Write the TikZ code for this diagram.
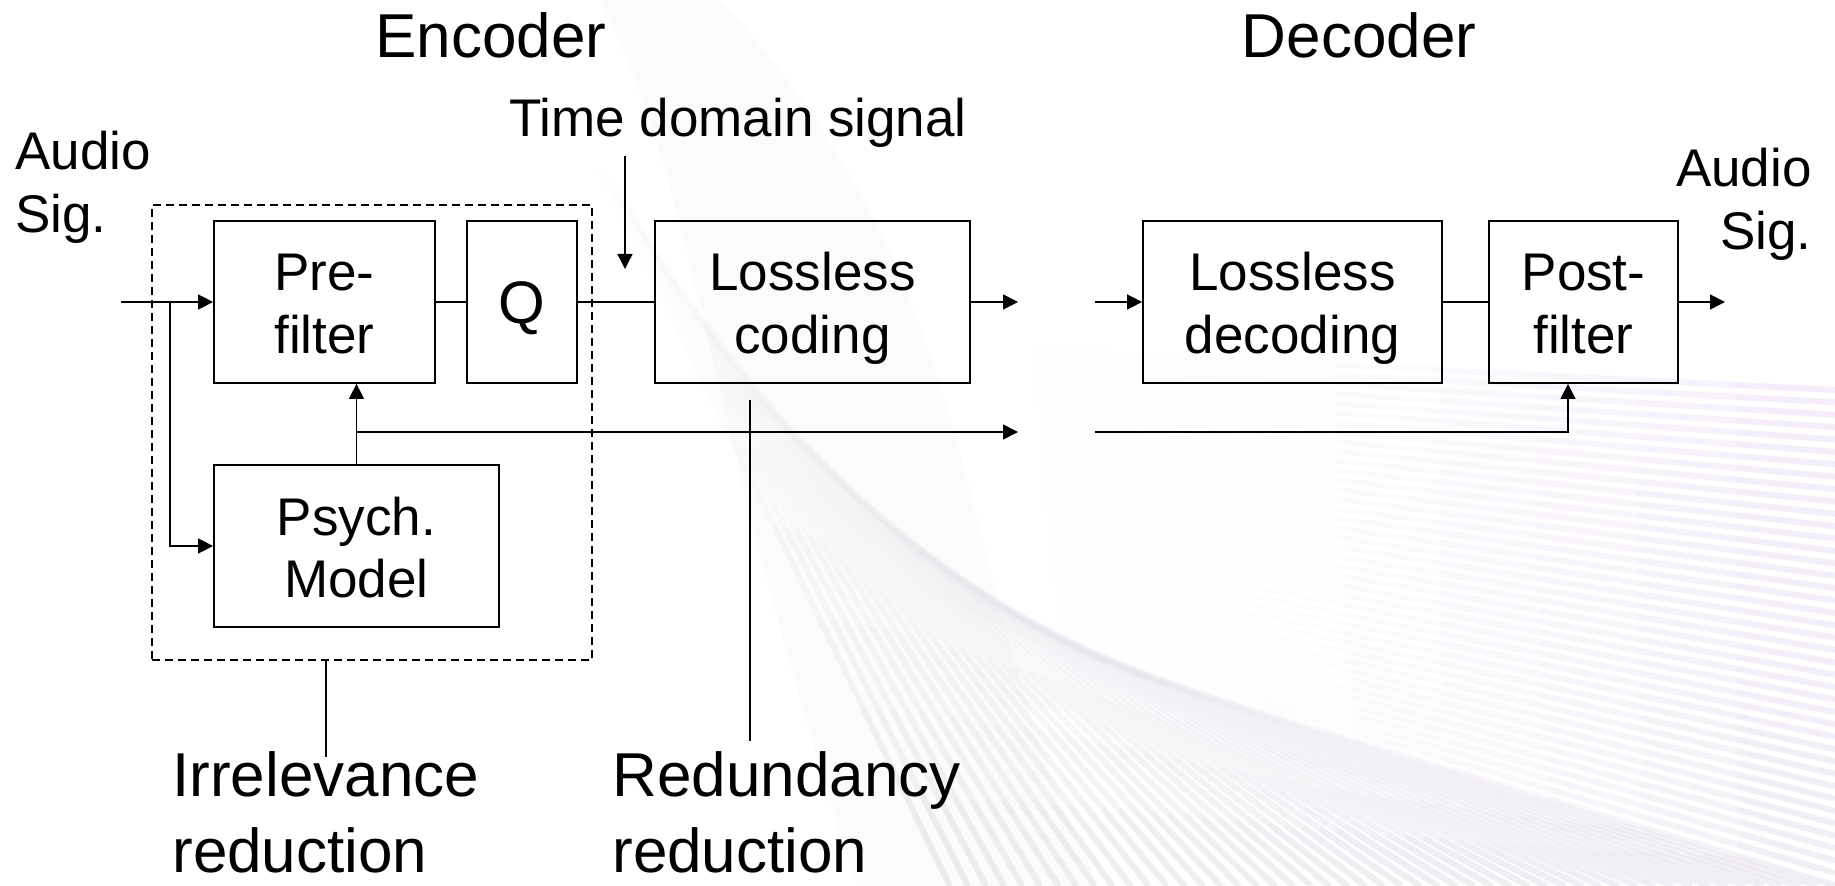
\documentclass[tikz,border=0pt]{standalone}
\usepackage{fontspec}
\setmainfont{Liberation Sans}
\usetikzlibrary{arrows.meta,calc}

\newcommand\boxfont{\fontsize{26.5}{31.5}\selectfont}
\newcommand\headfont{\fontsize{31}{38}\selectfont}
\newcommand\qfont{\fontsize{30}{36}\selectfont}

\definecolor{stripeA}{RGB}{236,222,246}
\definecolor{stripeB}{RGB}{222,222,226}
\definecolor{bandtint}{RGB}{200,192,215}

\begin{document}
\begin{tikzpicture}[x=0.5pt,y=-0.5pt,
  blk/.style={draw, line width=0.9pt, inner sep=0pt, align=center, font=\boxfont,
              minimum height=81pt, text height=52pt, text depth=0pt},
  wire/.style={line width=0.75pt},
  arr/.style={wire, -{Triangle[length=7.5pt,width=7.5pt]}},
  txt/.style={inner sep=0pt, font=\boxfont},
  head/.style={inner sep=0pt, font=\headfont},
  stripe/.style={line width=3pt},
  groupbox/.style={draw, line width=0.75pt, dash pattern=on 4pt off 2.5pt, inner sep=0pt}
]
% page and background
\fill[white] (0,0) rectangle (1835,886);
\useasboundingbox (0,0) rectangle (1835,886);

\begin{scope}
  \clip (0,0) rectangle (1835,886);
  % soft swoosh band
  \fill[bandtint, opacity=0.05] (600,0) .. controls (700,200) and (700,400) .. (857,886)
     -- (1100,886) .. controls (950,600) and (1000,300) .. (720,0) -- cycle;
  % fan of fine stripes in the lower right
  \foreach \k in {0,...,89}{
    \pgfmathsetmacro\t{\k/89}
    \pgfmathsetmacro\ex{\t<0.45 ? 1835 : 1835-885*(\t-0.45)/0.55}
    \pgfmathsetmacro\ey{\t<0.45 ? 390+496*\t/0.45 : 886}
    \pgfmathsetmacro\m{0.05+0.5*\t+1.5*\t^5}
    \pgfmathsetmacro\ux{1/sqrt(1+\m*\m)}
    \pgfmathsetmacro\uy{\m*\ux}
    \pgfmathsetmacro\pc{100*(1-\t)}
    \foreach \j in {0,...,7}{
      \pgfmathsetmacro\op{0.5*((\j+1)/8)^2}
      \draw[stripe, color=stripeA!\pc!stripeB, opacity=\op]
        (\ex-\ux*800+\ux*100*\j, \ey-\uy*800+\uy*100*\j) --
        (\ex-\ux*700+\ux*100*\j, \ey-\uy*700+\uy*100*\j);
    }
  }
\end{scope}

% headings
\node[head, anchor=base] (enc) at (491,57.5) {Encoder};
\node[head, anchor=base] (dec) at (1359,57.5) {Decoder};
\node[txt, anchor=base] (tds) at (738,137) {Time domain signal};
\node[txt, anchor=base west, align=left] (ain) at (15,233) {Audio\\Sig.};
\node[txt, anchor=base east, align=right] (aout) at (1812,250) {Audio\\Sig.};

% encoder blocks
\node[groupbox, minimum width=220pt, minimum height=227.5pt] (irrbox) at (372,432.5) {};
\node[blk, minimum width=110.5pt] (pre) at (324.5,302) {Pre-\\filter};
\node[blk, minimum width=55pt, font=\qfont, text height=22pt, text depth=0pt] (q) at (522,302) {Q};
\node[blk, minimum width=157.5pt] (lcod) at (812.5,302) {Lossless\\coding};
\node[blk, minimum width=142.5pt] (psy) at (356.5,546) {Psych.\\Model};

% decoder blocks
\node[blk, minimum width=149.5pt] (ldec) at (1292.5,302) {Lossless\\decoding};
\node[blk, minimum width=94.5pt] (post) at (1583.5,302) {Post-\\filter};

% bottom labels
\node[head, anchor=base west, align=left, text depth=0pt] (irr) at (172,872) {Irrelevance\\reduction};
\node[head, anchor=base west, align=left, text depth=0pt] (red) at (612,872) {Redundancy\\reduction};

% free ends of connectors
\coordinate (in) at (121,302);
\coordinate (split) at (170,302);
\coordinate (tdstop) at (625,156);
\coordinate (tdstip) at (625,269);
\coordinate (cout) at (1018,302);
\coordinate (sidejoin) at (356.5,432);
\coordinate (sideout) at (1018,432);
\coordinate (din) at (1095,302);
\coordinate (sidein) at (1095,432);
\coordinate (sigout) at (1725,302);
\coordinate (irrtip) at (326,757);
\coordinate (redtop) at (750,400);
\coordinate (redbot) at (750,741);

% encoder signal path
\draw[arr] (in) -- (pre.west);
\draw[arr] (split) |- (psy.west);
\draw[wire] (pre) -- (q);
\draw[wire] (q) -- (lcod);
\draw[arr] (tdstop) -- (tdstip);
\draw[arr] (lcod) -- (cout);
\draw[arr] (psy.north) -- (psy.north |- pre.south);
\draw[arr] (sidejoin) -- (sideout);

% decoder signal path
\draw[arr] (din) -- (ldec.west);
\draw[wire] (ldec) -- (post);
\draw[arr] (post.east) -- (sigout);
\draw[arr] (sidein) -| ([xshift=-7.75pt]post.south);

% pointers to the bottom labels
\draw[wire] (irrtip |- irrbox.south) -- (irrtip);
\draw[wire] (redtop) -- (redbot);
\end{tikzpicture}
\end{document}
